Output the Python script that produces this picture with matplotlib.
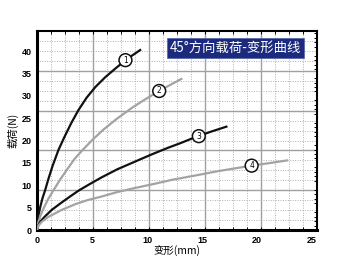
import matplotlib
matplotlib.use("Agg")
import matplotlib.pyplot as plt
import numpy as np

plt.rcParams['font.family'] = ['Noto Sans CJK SC', 'DejaVu Sans']

# curve data: deformation (mm) vs load (N)
x1 = [0, 0.05, 0.15, 0.3, 0.5, 0.73, 1.0, 1.4, 1.94, 2.5, 3.1, 3.75, 4.5, 5.3, 6.2, 7.1, 8.2, 9.45]
y1 = [0, 1.8, 3.6, 5.3, 7.2, 8.9, 11.2, 14.3, 17.9, 20.9, 23.9, 26.8, 29.6, 32.0, 34.2, 36.1, 38.3, 40.4]
x2 = [0, 0.1, 0.3, 0.6, 1.0, 1.49, 2.1, 2.8, 3.4, 4.06, 5.0, 6.0, 7.2, 8.6, 9.8, 11.1, 12.2, 13.2]
y2 = [0, 1.6, 3.2, 4.9, 6.9, 8.9, 11.3, 13.8, 15.9, 17.7, 20.1, 22.4, 24.8, 27.3, 29.2, 31.1, 32.6, 33.9]
x3 = [0, 0.1, 0.3, 0.7, 1.33, 2.2, 3.0, 3.76, 4.8, 5.88, 7.3, 8.9, 10.4, 11.9, 13.1, 14.3, 15.8, 17.3]
y3 = [0, 1.0, 1.9, 3.0, 4.5, 6.1, 7.5, 8.8, 10.3, 11.8, 13.6, 15.3, 16.9, 18.4, 19.5, 20.7, 22.0, 23.2]
x4 = [0, 0.1, 0.4, 1.0, 2.24, 3.5, 4.6, 5.88, 7.3, 8.9, 10.6, 12.4, 14.4, 16.3, 18.0, 19.5, 21.2, 22.8]
y4 = [0, 0.9, 1.8, 2.9, 4.5, 5.8, 6.7, 7.5, 8.5, 9.4, 10.3, 11.3, 12.2, 13.1, 13.8, 14.4, 15.0, 15.6]

names = ['1', '2', '3', '4']
label_x = [8.03, 11.1, 14.7, 19.5]
label_y = [38.0, 31.1, 21.0, 14.4]

x_ticks = [0, 5, 10, 15, 20, 25]
y_ticks = [0, 5, 10, 15, 20, 25, 30, 35, 40]

xmax, ymax = 25.45, 44.5

fig = plt.figure(figsize=(3.5, 2.57), dpi=100)
ax = fig.add_axes([0.106, 0.105, 0.8, 0.774])
ax.set_xlim(0, xmax)
ax.set_ylim(0, ymax)

# grid: 5 major cells with 4 dotted subdivisions each way
for v in np.linspace(0, xmax, 21)[1:-1]:
    ax.axvline(v, color='#b0b0b0', lw=0.7, ls=(0, (1, 1.5)), zorder=0)
for v in np.linspace(0, ymax, 21)[1:-1]:
    ax.axhline(v, color='#b0b0b0', lw=0.7, ls=(0, (1, 1.5)), zorder=0)
for v in np.linspace(0, xmax, 6)[1:-1]:
    ax.axvline(v, color='#a0a0a0', lw=1.0, zorder=0)
for v in np.linspace(0, ymax, 6)[1:-1]:
    ax.axhline(v, color='#a0a0a0', lw=1.0, zorder=0)

colors = ['#111111', '#a3a3a3', '#111111', '#a3a3a3']
for (xs, ys), c in zip([(x1, y1), (x2, y2), (x3, y3), (x4, y4)], colors):
    ax.plot(xs, ys, color=c, lw=1.6, solid_capstyle='butt',
            solid_joinstyle='round', zorder=3)

for n, lx, ly in zip(names, label_x, label_y):
    ax.text(lx, ly, n, fontsize=5.5, ha='center', va='center', zorder=5,
            family='DejaVu Sans',
            bbox=dict(boxstyle='circle,pad=0.25', fc='white', ec='#111111', lw=1.1))

ax.set_xticks(x_ticks)
ax.set_yticks(y_ticks)
ax.set_xticklabels([str(t) for t in x_ticks], fontsize=6.5, fontweight='bold',
                   family='Liberation Sans')
ax.set_yticklabels([str(t) for t in y_ticks], fontsize=6.5, fontweight='bold',
                   family='Liberation Sans')
ax.tick_params(which='major', length=0, pad=4)
ax.set_xticks(np.linspace(0, xmax, 21), minor=True)
ax.set_yticks(np.arange(1, 45, 1), minor=True)
ax.tick_params(axis='x', which='minor', direction='in', length=2, width=0.7,
               top=True, bottom=True)
ax.tick_params(axis='y', which='minor', direction='in', length=2, width=0.7,
               left=False, right=True)

for side in ['left', 'bottom']:
    ax.spines[side].set_linewidth(2.2)
for side in ['top', 'right']:
    ax.spines[side].set_linewidth(1.5)

ax.set_xlabel('变形(mm)', fontsize=7.5, labelpad=1)
ax.set_ylabel('载荷(N)', fontsize=7.5, labelpad=2)

ax.text(0.475, 0.917, '45°方向载荷-变形曲线', transform=ax.transAxes, color='white',
        fontsize=9.6, ha='left', va='center', zorder=6,
        bbox=dict(boxstyle='square,pad=0.22', fc='#1b2a7e', ec='#5a6aa8', lw=0.6))

fig.savefig('out.png', dpi=100)
